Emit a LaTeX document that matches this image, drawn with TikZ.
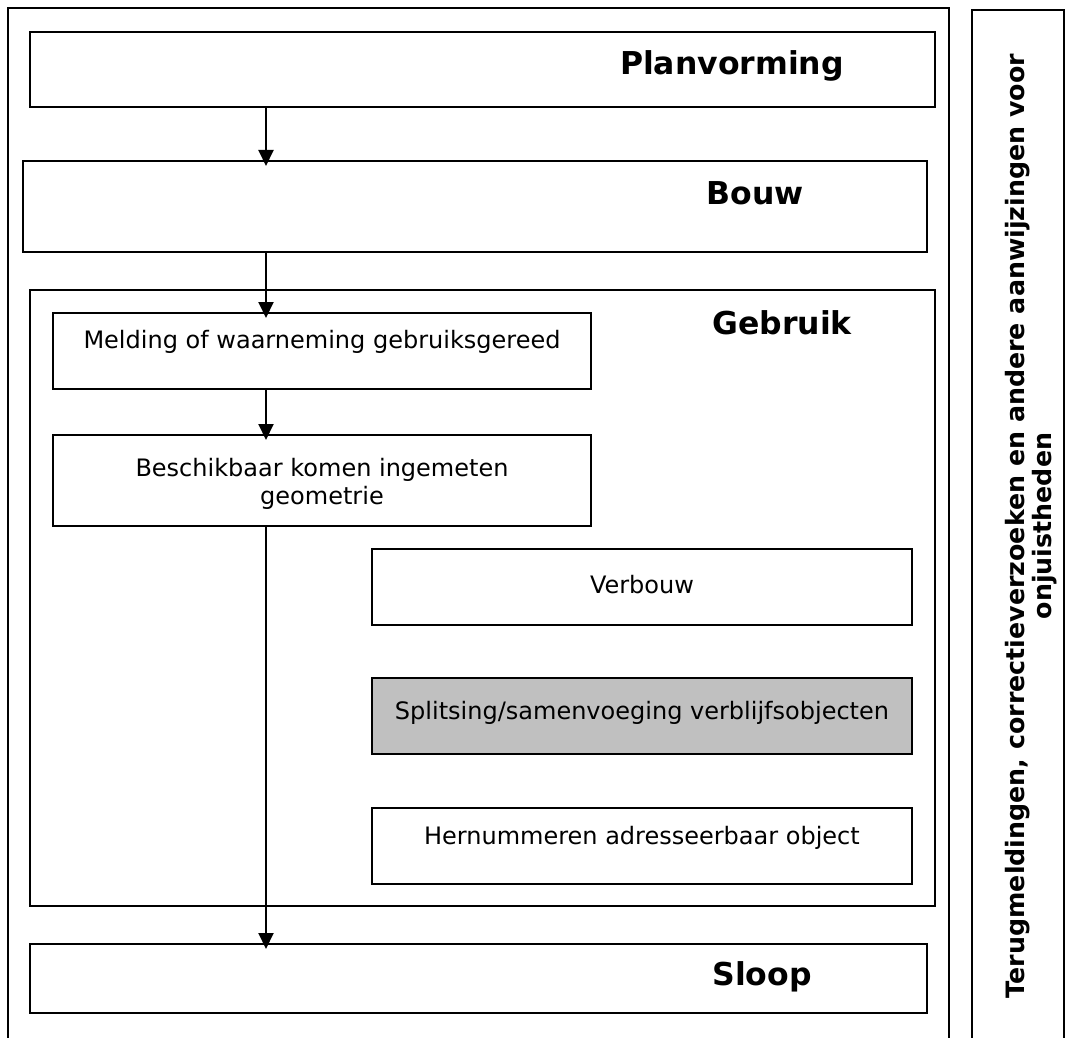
\documentclass[tikz,border=0pt]{standalone}
\usepackage{fontspec}
\setmainfont{DejaVu Sans}
\usetikzlibrary{arrows.meta}
\begin{document}
\begin{tikzpicture}[x=1pt,y=-1pt,
  box/.style={draw=black,line width=2pt,fill=white,inner sep=0pt,rectangle},
  graybox/.style={box,fill=gray75},
  arr/.style={line width=2pt,-{Triangle[length=16pt,width=15pt]},shorten >=-6pt},
  frame/.style={line width=1.8pt},
  big/.style={font=\fontsize{31.5}{36}\selectfont\bfseries,inner sep=0pt},
  small/.style={font=\fontsize{24}{28}\selectfont,inner sep=0pt,align=center},
  side/.style={font=\fontsize{25.3}{27}\selectfont\bfseries,inner sep=0pt,align=center,rotate=90}]
\definecolor{gray75}{HTML}{C0C0C0}
\useasboundingbox (0,0) rectangle (1068,1038);
% outer frames
\draw[frame] (8,1040) -- (8,8) -- (949,8) -- (949,1040);
\draw[frame] (972,1040) -- (972,10) -- (1064,10) -- (1064,1040);
% main phase boxes
\node[box,minimum width=905pt,minimum height=75pt] (plan) at (482.5,69.5) {};
\node[box,minimum width=904pt,minimum height=91pt] (bouw) at (475,206.5) {};
\node[box,minimum width=905pt,minimum height=616pt] (gebruik) at (482.5,598) {};
\node[box,minimum width=897pt,minimum height=69pt] (sloop) at (478.5,978.5) {};
% inner boxes
\node[box,minimum width=538pt,minimum height=76pt] (melding) at (322,351) {};
\node[box,minimum width=538pt,minimum height=91pt] (beschik) at (322,480.5) {};
\node[box,minimum width=540pt,minimum height=76pt] (verbouw) at (642,587) {};
\node[graybox,minimum width=540pt,minimum height=76pt] (split) at (642,716) {};
\node[box,minimum width=540pt,minimum height=76pt] (hernum) at (642,846) {};
% labels
\node[big] (tplan) at (732,66) {Planvorming};
\node[big] (tbouw) at (755,193) {Bouw};
\node[big] (tgebruik) at (782,323) {Gebruik};
\node[big] (tsloop) at (762,977) {Sloop};
\node[small] (tmelding) at (322,342) {Melding of waarneming gebruiksgereed};
\node[small] (tbeschik) at (322,484) {Beschikbaar komen ingemeten\\geometrie};
\node[small] (tverbouw) at (642,585) {Verbouw};
\node[small] (tsplit) at (642,713) {Splitsing/samenvoeging verblijfsobjecten};
\node[small] (thernum) at (642,838) {Hernummeren adresseerbaar object};
\node[side] (tside) at (1031,526) {Terugmeldingen, correctieverzoeken en andere aanwijzingen voor\\onjuistheden};
% arrows
\coordinate (ax) at (266,0);
\draw[arr] (plan.south -| ax) -- (bouw.north -| ax);
\draw[arr] (bouw.south -| ax) -- (melding.north -| ax);
\draw[arr] (melding.south -| ax) -- (beschik.north -| ax);
\draw[arr] (beschik.south -| ax) -- (sloop.north -| ax);
\end{tikzpicture}
\end{document}
